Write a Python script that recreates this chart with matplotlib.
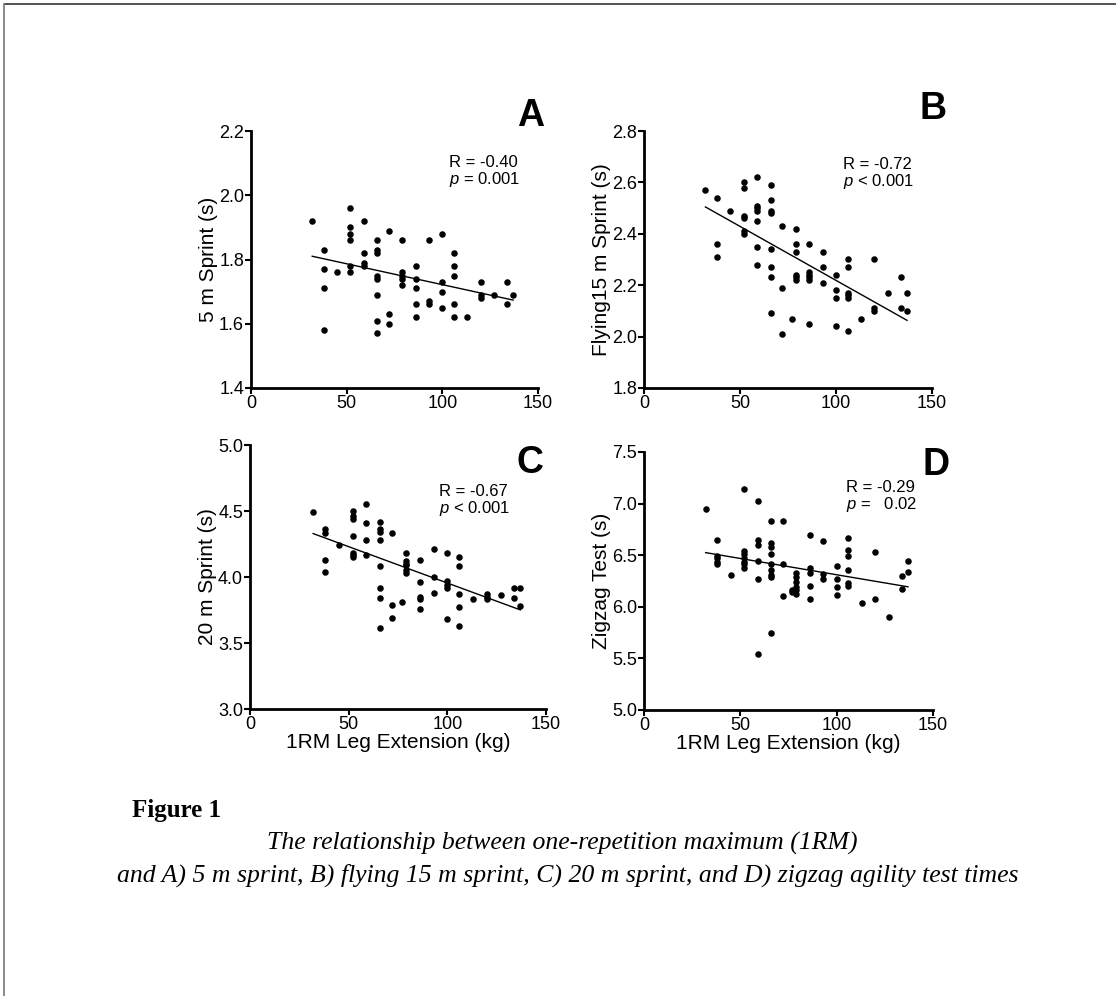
import matplotlib
matplotlib.use("Agg")
import matplotlib.pyplot as plt
from matplotlib.lines import Line2D
import numpy as np

plt.rcParams['font.family'] = ['Liberation Sans Narrow', 'Liberation Sans', 'DejaVu Sans']
plt.rcParams['mathtext.fontset'] = 'custom'
plt.rcParams['mathtext.rm'] = 'Liberation Sans'
plt.rcParams['mathtext.it'] = 'Liberation Sans:italic'

# 1RM leg extension loads (kg), one column of dots per load
loads = [32, 38, 45, 52, 59, 66, 72, 77, 79, 86, 93, 100, 106, 113, 120, 127, 134, 137]

# A) 5 m sprint (s)
sprint5 = [[1.92], [1.83, 1.77, 1.71, 1.58], [1.76],
           [1.96, 1.90, 1.88, 1.86, 1.78, 1.76], [1.92, 1.82, 1.79, 1.78],
           [1.86, 1.83, 1.82, 1.75, 1.74, 1.69, 1.61, 1.57], [1.89, 1.63, 1.60], [],
           [1.86, 1.76, 1.75, 1.74, 1.72], [1.78, 1.74, 1.71, 1.66, 1.62],
           [1.86, 1.67, 1.66], [1.88, 1.73, 1.70, 1.65],
           [1.82, 1.78, 1.75, 1.66, 1.62], [1.62], [1.73, 1.69, 1.68], [1.69],
           [1.73, 1.66], [1.69]]

# B) flying 15 m sprint (s)
flying15 = [[2.57], [2.54, 2.36, 2.31], [2.49],
            [2.60, 2.58, 2.47, 2.46, 2.41, 2.40], [2.62, 2.51, 2.50, 2.49, 2.45, 2.35, 2.28],
            [2.59, 2.53, 2.49, 2.48, 2.34, 2.27, 2.23, 2.09], [2.43, 2.19, 2.01], [2.07],
            [2.42, 2.36, 2.33, 2.24, 2.23, 2.22], [2.36, 2.25, 2.24, 2.23, 2.22, 2.05],
            [2.33, 2.27, 2.21], [2.24, 2.18, 2.15, 2.04],
            [2.30, 2.27, 2.17, 2.16, 2.15, 2.02], [2.07], [2.30, 2.11, 2.10], [2.17],
            [2.23, 2.11], [2.17, 2.10]]

# C) 20 m sprint (s)
sprint20 = [[4.49], [4.36, 4.33, 4.13, 4.04], [4.24],
            [4.50, 4.46, 4.44, 4.31, 4.18, 4.17, 4.15], [4.55, 4.41, 4.28, 4.17],
            [4.42, 4.36, 4.34, 4.28, 4.08, 3.92, 3.84, 3.61], [4.33, 3.79, 3.69], [3.81],
            [4.18, 4.12, 4.10, 4.09, 4.05, 4.03], [4.13, 3.96, 3.85, 3.83, 3.76],
            [4.21, 4.00, 3.88], [4.18, 3.97, 3.94, 3.92, 3.68],
            [4.15, 4.08, 3.87, 3.77, 3.63], [3.83], [3.87, 3.85, 3.83], [3.86],
            [3.92, 3.84], [3.92, 3.78]]

# D) zigzag agility test (s)
zigzag = [[6.95], [6.65, 6.49, 6.47, 6.43, 6.41], [6.31],
          [7.14, 6.54, 6.51, 6.47, 6.43, 6.41, 6.38], [7.03, 6.65, 6.60, 6.44, 6.27, 5.54],
          [6.83, 6.62, 6.58, 6.51, 6.41, 6.36, 6.31, 6.29, 5.75], [6.83, 6.41, 6.10], [6.16, 6.14],
          [6.33, 6.29, 6.24, 6.19, 6.16, 6.12], [6.70, 6.38, 6.33, 6.20, 6.08],
          [6.64, 6.32, 6.27], [6.40, 6.27, 6.19, 6.11],
          [6.67, 6.55, 6.49, 6.36, 6.23, 6.20], [6.04], [6.53, 6.08], [5.90],
          [6.30, 6.17], [6.44, 6.34]]

ylabels = ["5 m Sprint (s)", "Flying15 m Sprint (s)", "20 m Sprint (s)", "Zigzag Test (s)"]
letters = ["A", "B", "C", "D"]
r_texts = ["R = -0.40", "R = -0.72", "R = -0.67", "R = -0.29"]
p_texts = ["= 0.001", "< 0.001", "< 0.001", "=   0.02"]
ylims = [(1.4, 2.2), (1.8, 2.8), (3.0, 5.0), (5.0, 7.5)]
yticks = [np.arange(1.4, 2.21, 0.2), np.arange(1.8, 2.81, 0.2),
          np.arange(3.0, 5.01, 0.5), np.arange(5.0, 7.51, 0.5)]
series = [sprint5, flying15, sprint20, zigzag]

W, H = 1116, 996
fig = plt.figure(figsize=(W / 100, H / 100), dpi=100)

# panel boxes in pixels: left, top, right, bottom
boxes = [(251, 131, 538, 388), (644, 131, 932, 388),
         (250, 445, 546, 709), (644, 452, 933, 710)]
# annotation positions in axes fractions (x, centre y of the two lines)
stat_pos = [(0.69, 0.84), (0.69, 0.833), (0.64, 0.787), (0.70, 0.827)]
letter_pos = [(1.02, 1.06), (1.05, 1.087), (0.99, 0.93), (1.056, 0.95)]

for i, ax_box in enumerate(boxes):
    l, t, r, b = ax_box
    ax = fig.add_axes([l / W, 1 - b / H, (r - l) / W, (b - t) / H])
    xs = np.concatenate([[x] * len(col) for x, col in zip(loads, series[i])])
    ys = np.concatenate([col for col in series[i]])
    ax.scatter(xs, ys, s=22, color='black', zorder=3, linewidths=0)
    k, c = np.polyfit(xs, ys, 1)
    xl = np.array([xs.min(), xs.max()])
    ax.plot(xl, k * xl + c, color='black', lw=1.0)

    ax.set_xlim(0, 150)
    ax.set_ylim(*ylims[i])
    ax.set_xticks([0, 50, 100, 150])
    ax.set_yticks(yticks[i])
    ax.set_yticklabels([f"{v:.1f}" for v in yticks[i]])
    for s in ['top', 'right']:
        ax.spines[s].set_visible(False)
    for s in ['left', 'bottom']:
        ax.spines[s].set_linewidth(2.0)
    ax.tick_params(direction='out', length=4, width=1.5, labelsize=13, pad=1)
    ax.set_ylabel(ylabels[i], fontsize=15, labelpad=1)
    if i >= 2:
        ax.set_xlabel("1RM Leg Extension (kg)", fontsize=15, labelpad=0)

    lx, ly = letter_pos[i]
    ax.text(lx, ly, letters[i], transform=ax.transAxes, fontsize=27,
            fontweight='bold', ha='right', va='center')
    sx, sy = stat_pos[i]
    ax.text(sx, sy, r_texts[i] + "\n" + r"$p$ " + p_texts[i], transform=ax.transAxes,
            fontsize=12, ha='left', va='center', linespacing=1.0)

# page border (top and left)
fig.add_artist(Line2D([5 / W, 1], [1 - 4 / H, 1 - 4 / H], color='#333333', lw=1.2))
fig.add_artist(Line2D([4 / W, 4 / W], [0, 1 - 4 / H], color='#777777', lw=1.2))

# caption
fig.text(132 / W, 1 - 810 / H, "Figure 1", fontsize=18, fontweight='bold',
         family='Liberation Serif', va='center')
fig.text(562 / W, 1 - 843 / H,
         "The relationship between one-repetition maximum (1RM)",
         fontsize=18.5, style='italic', family='Liberation Serif', ha='center', va='center')
fig.text(568 / W, 1 - 875 / H,
         "and A) 5 m sprint, B) flying 15 m sprint, C) 20 m sprint, and D) zigzag agility test times",
         fontsize=18.5, style='italic', family='Liberation Serif', ha='center', va='center')

fig.savefig("out.png", dpi=100)
